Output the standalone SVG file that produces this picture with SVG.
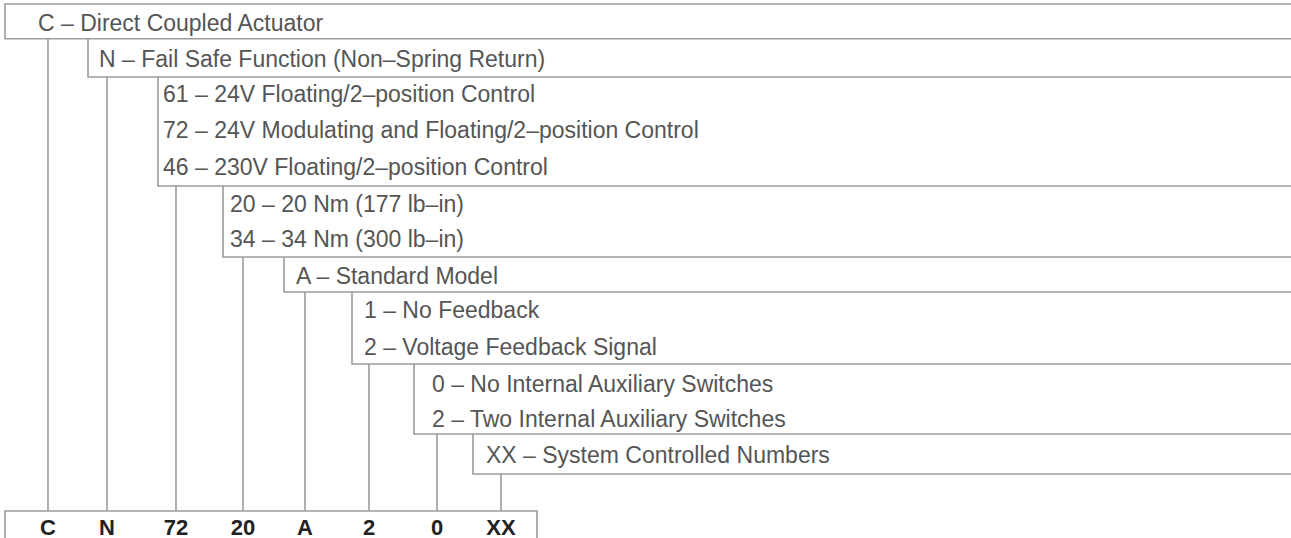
<svg xmlns="http://www.w3.org/2000/svg" width="1291" height="538" viewBox="0 0 1291 538">
<style>
.b{fill:none;stroke:#9c9c9c;stroke-width:1.6}
.c{fill:none;stroke:#9c9c9c;stroke-width:1.6}
.t{font-family:"Liberation Sans",Arial,sans-serif;font-size:23px;fill:#555}
.k{font-family:"Liberation Sans",Arial,sans-serif;font-size:22px;font-weight:bold;fill:#222;text-anchor:middle}
</style>
<rect width="1291" height="538" fill="#fff"/>
<g id="node-C">
<path class="b" d="M1291,4 H5 V38.7 H1291"/>
<text class="t" x="38" y="31">C – Direct Coupled Actuator</text>
</g>
<g id="node-N">
<path class="b" d="M88,38.7 V77 H1291"/>
<text class="t" x="99" y="67">N – Fail Safe Function (Non–Spring Return)</text>
</g>
<g id="node-voltage">
<path class="b" d="M158,77 V186 H1291"/>
<text class="t" x="163" y="102">61 – 24V Floating/2–position Control</text>
<text class="t" x="163" y="138">72 – 24V Modulating and Floating/2–position Control</text>
<text class="t" x="163" y="175">46 – 230V Floating/2–position Control</text>
</g>
<g id="node-torque">
<path class="b" d="M223,186 V257 H1291"/>
<text class="t" x="230" y="212">20 – 20 Nm (177 lb–in)</text>
<text class="t" x="230" y="247">34 – 34 Nm (300 lb–in)</text>
</g>
<g id="node-A">
<path class="b" d="M284,257 V292 H1291"/>
<text class="t" x="296" y="284">A – Standard Model</text>
</g>
<g id="node-feedback">
<path class="b" d="M352,292 V364 H1291"/>
<text class="t" x="364" y="318">1 – No Feedback</text>
<text class="t" x="364" y="355">2 – Voltage Feedback Signal</text>
</g>
<g id="node-aux">
<path class="b" d="M414,364 V434 H1291"/>
<text class="t" x="432" y="392">0 – No Internal Auxiliary Switches</text>
<text class="t" x="432" y="427">2 – Two Internal Auxiliary Switches</text>
</g>
<g id="node-XX">
<path class="b" d="M473,434 V474 H1291"/>
<text class="t" x="486" y="463">XX – System Controlled Numbers</text>
</g>
<g id="node-code">
<path class="b" d="M5,545 V511 H537 V545"/>
<text class="k" x="48" y="535">C</text>
<text class="k" x="107" y="535">N</text>
<text class="k" x="176" y="535">72</text>
<text class="k" x="243" y="535">20</text>
<text class="k" x="305" y="535">A</text>
<text class="k" x="369" y="535">2</text>
<text class="k" x="437" y="535">0</text>
<text class="k" x="501" y="535">XX</text>
</g>
<g id="connectors">
<path class="c" d="M48,38.7 V511"/>
<path class="c" d="M107,77 V511"/>
<path class="c" d="M176,186 V511"/>
<path class="c" d="M243,257 V511"/>
<path class="c" d="M305,292 V511"/>
<path class="c" d="M369,364 V511"/>
<path class="c" d="M437,434 V511"/>
<path class="c" d="M501,474 V511"/>
</g>
</svg>
